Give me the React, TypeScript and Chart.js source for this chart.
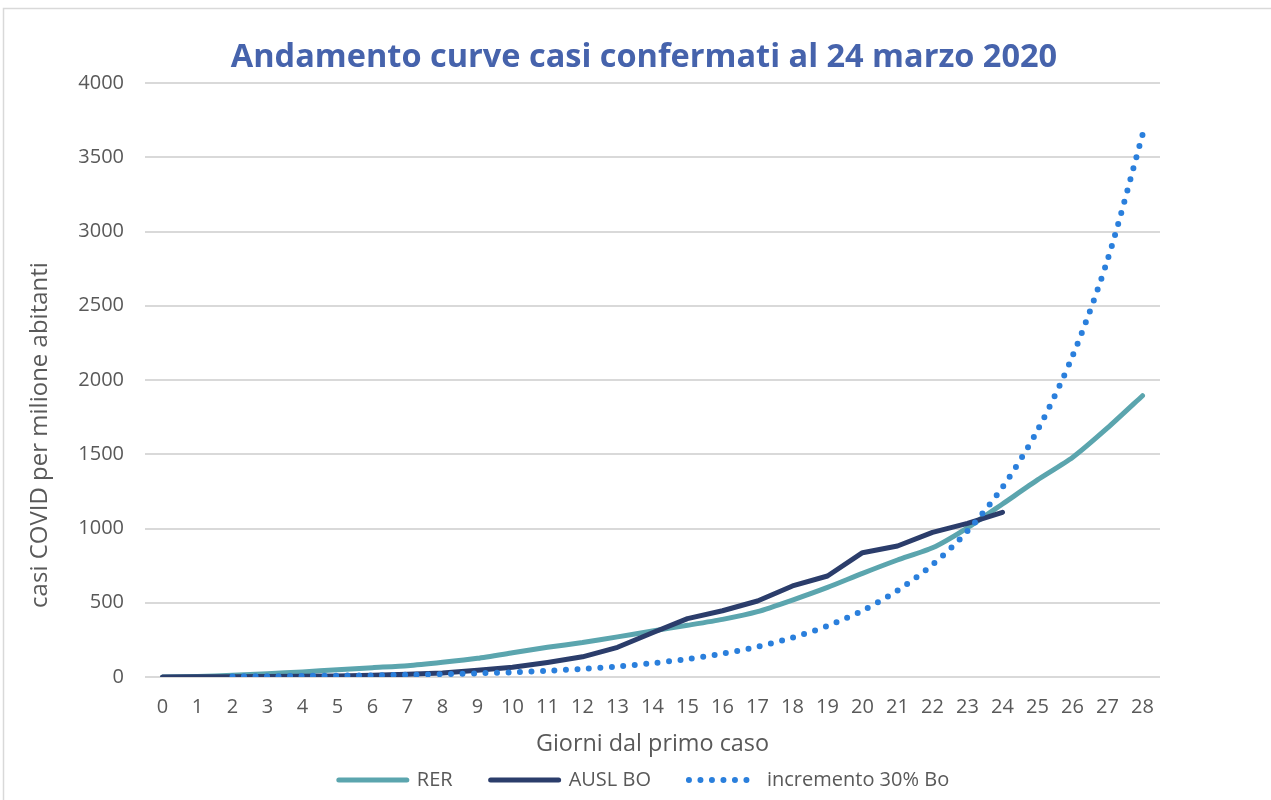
import React, { useEffect, useRef } from "react";
import { Chart, registerables } from "chart.js";

Chart.register(...registerables);

const days: string[] = [
  "0","1","2","3","4","5","6","7","8","9","10","11","12","13","14",
  "15","16","17","18","19","20","21","22","23","24","25","26","27","28",
];

const rerValues: (number | null)[] = [
  0, 3, 11, 22, 34, 49, 63, 76, 99, 126, 163, 200, 232, 270, 310,
  348, 388, 440, 518, 603, 698, 788, 870, 1005, 1165, 1327, 1478, 1677, 1894,
];

const auslBoValues: (number | null)[] = [
  0, 1, 2, 3, 5, 7, 11, 18, 27, 45, 65, 98, 136, 200, 298,
  393, 446, 512, 613, 680, 837, 882, 974, 1035, 1109,
];

const incrementoValues: (number | null)[] = [
  null, null, 4, 5, 7, 9, 11, 15, 19, 25, 32, 42, 55, 71, 93,
  121, 157, 204, 265, 344, 447, 582, 756, 983, 1278, 1661, 2160, 2808, 3650,
];

const titleText = "Andamento curve casi confermati al 24 marzo 2020";
const xTitle = "Giorni dal primo caso";
const yTitle = "casi COVID per milione abitanti";

const FONT = "'Open Sans', sans-serif";
const TEXT = "#595959";

export default function App() {
  const ref = useRef<HTMLCanvasElement | null>(null);

  useEffect(() => {
    document.body.style.margin = "0";
    const canvas = ref.current;
    if (!canvas) return;

    const framePlugin = {
      id: "frame",
      beforeDraw(chart: any) {
        const ctx = chart.ctx;
        ctx.save();
        ctx.fillStyle = "#ffffff";
        ctx.fillRect(0, 0, chart.width, chart.height);
        ctx.strokeStyle = "#d9d9d9";
        ctx.lineWidth = 1.5;
        ctx.strokeRect(3.5, 8.5, chart.width + 10, chart.height + 10);
        ctx.restore();
      },
      afterDraw(chart: any) {
        const ctx = chart.ctx;
        const area = chart.chartArea;
        ctx.save();
        ctx.fillStyle = TEXT;
        ctx.font = `24px ${FONT}`;
        ctx.textAlign = "center";
        ctx.textBaseline = "middle";
        ctx.translate(40, (area.top + area.bottom) / 2 + 55);
        ctx.rotate(-Math.PI / 2);
        ctx.fillText(yTitle, 0, 0);
        ctx.restore();
      },
    };

    const chart = new Chart(canvas, {
      type: "line",
      data: {
        labels: days,
        datasets: [
          {
            label: "RER",
            data: rerValues,
            borderColor: "#5ba5ae",
            backgroundColor: "#5ba5ae",
            borderWidth: 5,
            borderCapStyle: "round",
            borderJoinStyle: "round",
            pointRadius: 0,
            tension: 0.2,
            order: 2,
          },
          {
            label: "AUSL BO",
            data: auslBoValues,
            borderColor: "#2b3d6b",
            backgroundColor: "#2b3d6b",
            borderWidth: 5,
            borderCapStyle: "round",
            borderJoinStyle: "round",
            pointRadius: 0,
            tension: 0,
            order: 1,
          },
          {
            label: "incremento 30% Bo",
            data: incrementoValues,
            borderColor: "#2a7fdc",
            backgroundColor: "#2a7fdc",
            borderWidth: 6,
            borderDash: [0, 11.5],
            borderCapStyle: "round",
            pointRadius: 0,
            tension: 0.3,
            order: 0,
          },
        ],
      },
      options: {
        responsive: false,
        animation: false,
        layout: { padding: { left: 17, right: 0, top: 0, bottom: 0 } },
        plugins: {
          title: {
            display: true,
            text: titleText,
            color: "#4663ac",
            font: { family: FONT, size: 32.5, weight: "bold", lineHeight: 1.2 },
            padding: { top: 38.5, bottom: 5.5 },
          },
          legend: {
            position: "bottom",
            labels: {
              usePointStyle: true,
              pointStyle: "line",
              pointStyleWidth: 68,
              color: TEXT,
              font: { family: FONT, size: 20 },
              padding: 38,
              sort: (a: any, b: any) => a.datasetIndex - b.datasetIndex,
              generateLabels: (ch: any) => {
                const items = Chart.defaults.plugins.legend.labels.generateLabels(ch);
                return items.map((it: any) => {
                  const ds: any = ch.data.datasets[it.datasetIndex];
                  return {
                    ...it,
                    lineDash: ds.borderDash || [],
                    lineCap: ds.borderCapStyle || "butt",
                    lineWidth: ds.borderWidth,
                    strokeStyle: ds.borderColor,
                    fillStyle: ds.borderColor,
                  };
                });
              },
            },
          },
          tooltip: { enabled: false },
        },
        scales: {
          x: {
            type: "category",
            offset: true,
            grid: { display: false, drawTicks: false },
            border: { display: false },
            ticks: {
              color: TEXT,
              font: { family: FONT, size: 20 },
              padding: 18,
              maxRotation: 0,
              autoSkip: false,
            },
            title: {
              display: true,
              text: xTitle,
              color: TEXT,
              font: { family: FONT, size: 23.4, lineHeight: 1.2 },
              padding: { top: 0, bottom: -26 },
            },
            afterFit: (scale: any) => {
              scale.height = 55;
            },
          },
          y: {
            type: "linear",
            position: "left",
            min: 0,
            max: 4000,
            grid: { color: "#d9d9d9", lineWidth: 2, drawTicks: false },
            border: { display: false },
            ticks: {
              stepSize: 500,
              color: TEXT,
              font: { family: FONT, size: 20 },
              padding: 21,
              callback: (v: any) => String(v),
            },
            title: { display: false },
            afterFit: (scale: any) => {
              scale.width = 128;
            },
          },
          yRight: {
            type: "linear",
            position: "right",
            display: true,
            grid: { display: false, drawTicks: false },
            border: { display: false },
            ticks: { display: false },
            afterFit: (scale: any) => {
              scale.width = 111;
            },
          },
        },
      },
      plugins: [framePlugin],
    } as any);

    return () => chart.destroy();
  }, []);

  return (
    <div style={{ width: 1271, height: 800 }}>
      <canvas ref={ref} width={1271} height={800} />
    </div>
  );
}
